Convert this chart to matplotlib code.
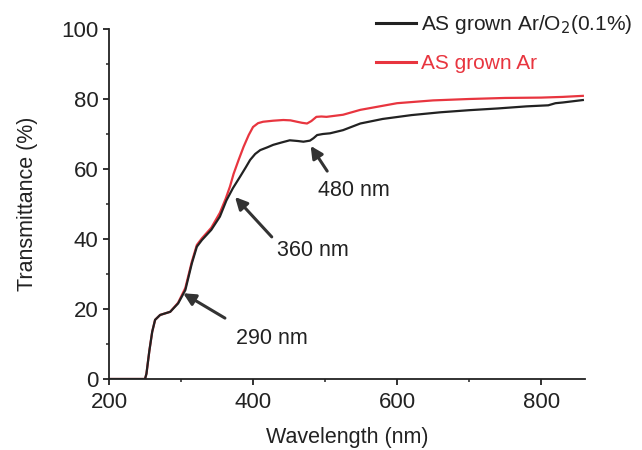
import matplotlib
matplotlib.use("Agg")
import matplotlib.pyplot as plt
from matplotlib.ticker import MultipleLocator

plt.rcParams['font.family'] = ['Liberation Sans', 'DejaVu Sans']

# --- data ---
w_black = [200, 250, 252, 256, 260, 264, 271, 285, 296, 306, 315, 322, 329, 342, 354,
           363, 372, 382, 390, 396, 403, 410, 420, 428, 440, 451, 462, 470, 479, 484,
           489, 497, 507, 525, 549, 580, 620, 660, 700, 740, 780, 810, 820, 830, 858]
t_black = [0, 0, 1.5, 8, 13.5, 16.9, 18.3, 19.2, 21.6, 25.4, 33, 37.8, 39.7, 42.6, 46.4,
           51, 54.5, 57.8, 60.5, 62.6, 64.3, 65.4, 66.2, 66.9, 67.6, 68.2, 68.0, 67.8, 68.1, 68.8,
           69.7, 70.0, 70.2, 71.1, 73, 74.3, 75.4, 76.2, 76.8, 77.3, 77.9, 78.2, 78.8, 79, 79.7]

w_red = [200, 250, 252, 256, 260, 264, 271, 285, 296, 306, 315, 322, 329, 342, 354,
         362, 368, 373, 380, 387, 394, 400, 407, 414, 428, 442, 452, 461, 468, 475,
         481, 488, 495, 502, 525, 549, 600, 650, 700, 750, 800, 830, 858]
t_red = [0, 0, 1.5, 8, 13.5, 16.9, 18.3, 19.2, 21.8, 26, 33.5, 38.3, 40.2, 43.2, 47.5,
         51.5, 55, 58.6, 62.6, 66.4, 69.7, 72, 73.1, 73.5, 73.8, 74.0, 73.9, 73.5, 73.2, 73.0,
         73.7, 74.9, 75.0, 74.9, 75.5, 76.9, 78.8, 79.6, 80.0, 80.3, 80.4, 80.6, 80.9]

labels = ["AS grown Ar/O$_2$(0.1%)", "AS grown Ar"]
colors = ["#222222", "#e8353f"]

annotations = ["290 nm", "360 nm", "480 nm"]
ann_tip = [(303, 24.5), (375, 52), (480, 66.6)]
ann_tail = [(361, 17.4), (426, 40.6), (503, 59.4)]
ann_text_px = [(272, 338), (313, 250), (354, 190)]  # text centre in pixels -> converted below

fig = plt.figure(figsize=(6.42, 4.5), dpi=100)
ax = fig.add_axes([109/642, 71/450, (585-109)/642, (379-29)/450])

ax.plot(w_black, t_black, color=colors[0], lw=1.6, label=labels[0], zorder=3)
ax.plot(w_red, t_red, color=colors[1], lw=1.6, label=labels[1], zorder=2)

ax.set_xlim(200, 861)
ax.set_ylim(0, 100)
ax.xaxis.set_major_locator(MultipleLocator(200))
ax.xaxis.set_minor_locator(MultipleLocator(100))
ax.yaxis.set_major_locator(MultipleLocator(20))
ax.yaxis.set_minor_locator(MultipleLocator(10))
for s in ['top', 'right']:
    ax.spines[s].set_visible(False)
for s in ['left', 'bottom']:
    ax.spines[s].set_linewidth(1.3)
    ax.spines[s].set_color('#222222')
ax.tick_params(which='major', direction='out', length=4.5, width=1.3, labelsize=16,
               colors='#222222')
ax.tick_params(axis='x', which='major', pad=5)
ax.tick_params(axis='y', which='major', pad=3)
ax.tick_params(which='minor', direction='out', length=2.5, width=1.1, colors='#222222')
ax.set_xlabel("Wavelength (nm)", fontsize=15.5, color='#222222', labelpad=10)
ax.set_ylabel("Transmittance (%)", fontsize=15.5, color='#222222', labelpad=17)

def px2data(px, py):
    w = 200 + (px - 109) / 0.72
    t = (379 - py) / 3.5
    return w, t

for txt, tip, tail, tpx in zip(annotations, ann_tip, ann_tail, ann_text_px):
    ax.annotate("", xy=tip, xytext=tail,
                arrowprops=dict(arrowstyle='-|>', color='#333333', lw=2.2,
                                mutation_scale=18, shrinkA=0, shrinkB=0))
    tx, ty = px2data(*tpx)
    ax.text(tx, ty, txt, fontsize=15.5, ha='center', va='center', color='#222222')

leg = fig.legend(loc='upper right', bbox_to_anchor=(641/642, 1 - 5/450), frameon=False,
                 fontsize=15, handlelength=1.9, handletextpad=0.25, labelspacing=0.85,
                 borderaxespad=0)
for t, c in zip(leg.get_texts(), colors):
    t.set_color(c)
for l in leg.get_lines():
    l.set_linewidth(2.2)

fig.savefig("out.png", dpi=100)
